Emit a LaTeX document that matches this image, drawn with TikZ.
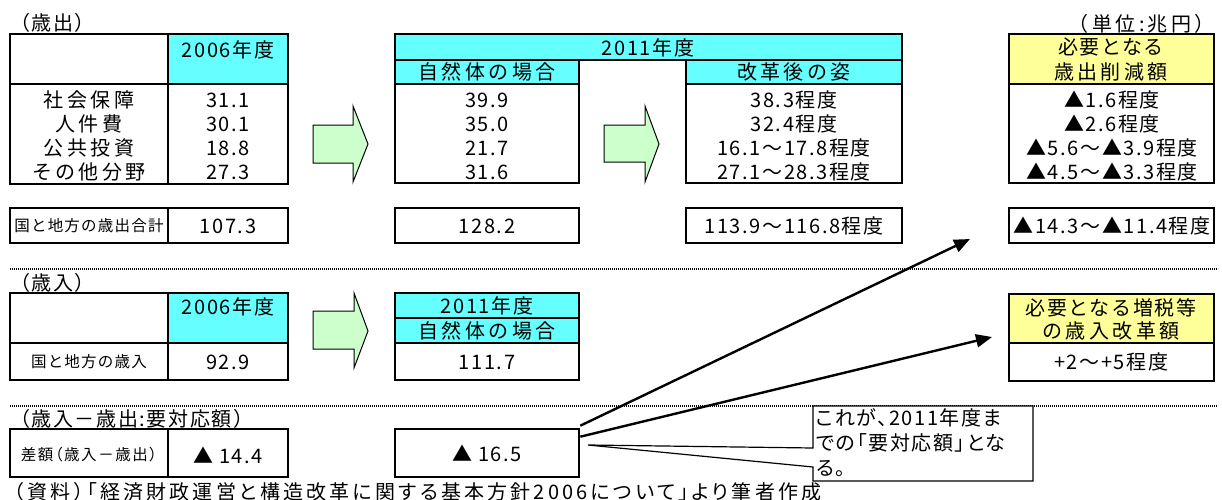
\documentclass[tikz,border=0pt]{standalone}
\usepackage{fontspec}
\newfontfamily\jp{Noto Sans CJK JP}[LetterSpace=8]
\newfontfamily\jpw{Noto Sans CJK JP}[LetterSpace=17]
\newfontfamily\jpn{Noto Sans CJK JP}[RawFeature=+palt, LetterSpace=8]
\newfontfamily\jpp{Noto Sans CJK JP}[RawFeature=+palt, LetterSpace=16]
\newfontfamily\jps{Noto Sans CJK JP}[RawFeature=+palt, LetterSpace=10]
\usetikzlibrary{arrows.meta}
\definecolor{cyanf}{RGB}{102,255,255}
\definecolor{yelf}{RGB}{255,255,153}
\definecolor{grnf}{RGB}{204,255,204}
\begin{document}
\begin{tikzpicture}[x=1pt,y=-1pt,
  txt/.style={inner sep=0pt, font=\jp\fontsize{20}{24}\selectfont},
  lab/.style={inner sep=0pt, font=\jpw\fontsize{20}{24}\selectfont},
  small/.style={inner sep=0pt, font=\jp\fontsize{15.5}{18}\selectfont},
  smallp/.style={inner sep=0pt, font=\jps\fontsize{15.5}{18}\selectfont},
  srctext/.style={inner sep=0pt, font=\jpp\fontsize{20}{24}\selectfont},
  notetext/.style={inner sep=0pt, align=left, font=\jpn\fontsize{20}{25}\selectfont},
  frame/.style={line width=2.6pt},
  blockarrow/.style={fill=grnf, draw=black, line width=1pt, line join=miter},
  dots/.style={line width=2pt, dash pattern=on 1.2pt off 0.8pt},
  link/.style={line width=2.4pt, -{Triangle[length=16pt,width=13pt]}},
]
\useasboundingbox (0,0) rectangle (1222,500);
\fill[white] (0,0) rectangle (1222,500);

% ---------- section 1: expenditure ----------
\node[txt, anchor=west] (hdexp) at (10,23) {（歳出）};
\node[lab, anchor=east] (unit) at (1215,24) {（単位:兆円）};

% table 2006
\fill[cyanf] (168,34) rectangle (288,84);
\draw[frame] (10,34) rectangle (288,184) (168,34) -- (168,184) (10,84) -- (288,84);
\node[txt] (y2006a) at (228,50) {2006年度};
\node[lab] (r1) at (89,100) {社会保障};
\node[lab] (r2) at (89,124) {人件費};
\node[lab] (r3) at (89,148) {公共投資};
\node[lab] (r4) at (89,172) {その他分野};
\node[txt] (a1) at (228,100) {31.1};
\node[txt] (a2) at (228,124) {30.1};
\node[txt] (a3) at (228,148) {18.8};
\node[txt] (a4) at (228,172) {27.3};

% block arrow 1
\draw[blockarrow] (313,125) -- (353,125) -- (353,106) -- (368,144) -- (353,182) -- (353,163) -- (313,163) -- cycle;

% table 2011
\fill[cyanf] (395,34) rectangle (902,60);
\fill[cyanf] (395,60) rectangle (579,84);
\fill[cyanf] (686,60) rectangle (902,84);
\draw[frame] (395,34) rectangle (902,60);
\draw[frame] (395,60) rectangle (579,183) (395,84) -- (579,84);
\draw[frame] (686,60) rectangle (902,183) (686,84) -- (902,84);
\node[txt] (y2011) at (648,48) {2011年度};
\node[lab] (nat) at (487,72) {自然体の場合};
\node[lab] (ref) at (794,72) {改革後の姿};
\node[txt] (b1) at (487,100) {39.9};
\node[txt] (b2) at (487,124) {35.0};
\node[txt] (b3) at (487,148) {21.7};
\node[txt] (b4) at (487,172) {31.6};
\node[txt] (c1) at (794,100) {38.3程度};
\node[txt] (c2) at (794,124) {32.4程度};
\node[txt] (c3) at (794,148) {16.1～17.8程度};
\node[txt] (c4) at (794,172) {27.1～28.3程度};

% block arrow 2
\draw[blockarrow] (604,125) -- (645,125) -- (645,106) -- (659,144) -- (645,182) -- (645,162) -- (604,162) -- cycle;

% required cuts
\fill[yelf] (1009,34) rectangle (1214,84);
\draw[frame] (1009,34) rectangle (1214,183) (1009,84) -- (1214,84);
\node[txt] (cuth1) at (1111,47) {必要となる};
\node[lab] (cuth2) at (1111,72) {歳出削減額};
\node[txt] (d1) at (1112,100) {▲1.6程度};
\node[txt] (d2) at (1112,124) {▲2.6程度};
\node[txt] (d3) at (1112,148) {▲5.6～▲3.9程度};
\node[txt] (d4) at (1112,172) {▲4.5～▲3.3程度};

% totals
\draw[frame] (10,208) rectangle (288,243) (168,208) -- (168,243);
\draw[frame] (395,208) rectangle (579,243);
\draw[frame] (686,208) rectangle (902,243);
\draw[frame] (1009,208) rectangle (1214,243);
\node[small] (tl) at (89,226) {国と地方の歳出合計};
\node[txt] (t1) at (228,226) {107.3};
\node[txt] (t2) at (487,226) {128.2};
\node[txt] (t3) at (794,226) {113.9～116.8程度};
\node[txt] (t4) at (1112,226) {▲14.3～▲11.4程度};

\draw[dots] (10,269) -- (1218,269);

% ---------- section 2: revenue ----------
\node[txt, anchor=west] (hdrev) at (10,283) {（歳入）};
\fill[cyanf] (168,293) rectangle (288,343);
\draw[frame] (10,293) rectangle (288,380) (168,293) -- (168,380) (10,343) -- (288,343);
\node[txt] (y2006b) at (228,307) {2006年度};
\node[small] (revl) at (89,362) {国と地方の歳入};
\node[txt] (rev06) at (228,362) {92.9};

\draw[blockarrow] (313,311) -- (354,311) -- (354,293) -- (368,331) -- (354,368) -- (354,349) -- (313,349) -- cycle;

\fill[cyanf] (395,293) rectangle (579,343);
\draw[frame] (395,293) rectangle (579,380) (395,318) -- (579,318) (395,343) -- (579,343);
\node[txt] (y2011b) at (487,306) {2011年度};
\node[lab] (natb) at (487,331) {自然体の場合};
\node[txt] (rev11) at (487,362) {111.7};

\fill[yelf] (1009,294) rectangle (1214,343);
\draw[frame] (1009,294) rectangle (1214,381) (1009,343) -- (1214,343);
\node[txt] (taxh1) at (1111,308) {必要となる増税等};
\node[lab] (taxh2) at (1111,331) {の歳入改革額};
\node[txt] (tax) at (1111,362) {+2～+5程度};

\draw[dots] (10,406) -- (1217,406);

% ---------- section 3: gap ----------
\node[txt, anchor=west] (hdgap) at (10,419) {（歳入－歳出:要対応額）};
\draw[frame] (10,429) rectangle (288,477) (168,429) -- (168,477);
\node[smallp] (gapl) at (89,455) {差額（歳入－歳出）};
\node[txt] (gap06) at (228,455) {▲ 14.4};
\node[draw, frame, txt, minimum width=184pt, minimum height=48pt] (gap11) at (487,453) {▲ 16.5};

\node[srctext, anchor=west] (src) at (14,492) {（資料）「経済財政運営と構造改革に関する基本方針2006について」より筆者作成};

% arrows
\coordinate (tipA) at (970,239);
\coordinate (tipB) at (992,337);
\draw[link] ([yshift=2pt]gap11.north east) -- (tipA);
\draw[link] ([yshift=-9pt]gap11.north east) -- (tipB);

% callout
\draw[fill=white, line width=1.2pt, line join=miter] (813,406) -- (1033,406) -- (1033,481) -- (813,481) -- (813,467) -- (588,445) -- (813,448) -- cycle;
\node[notetext, anchor=north west] (note) at (816,408) {これが、2011年度ま\\での「要対応額」とな\\る。};
\end{tikzpicture}
\end{document}
